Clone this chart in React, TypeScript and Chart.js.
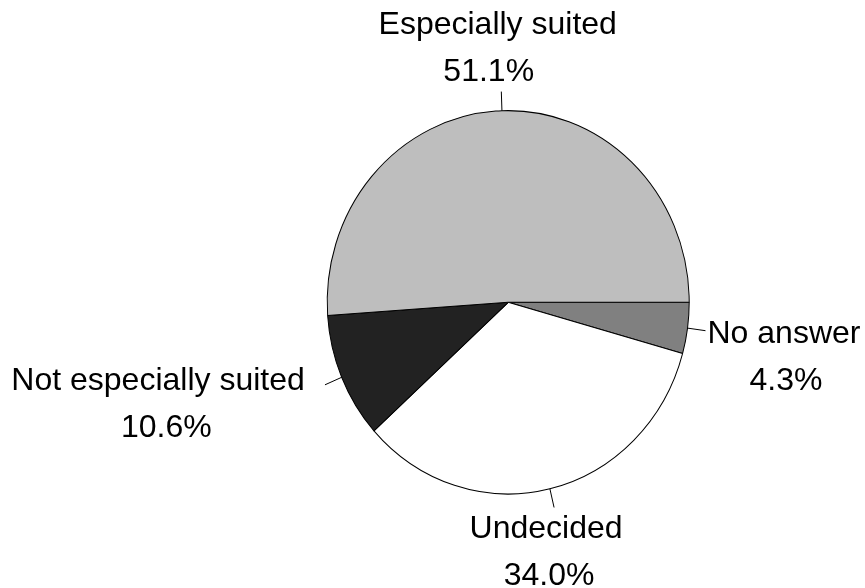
import { useEffect, useRef } from "react";
import { Chart, ArcElement, PieController } from "chart.js";

Chart.register(ArcElement, PieController);

// Survey answers, listed clockwise from three o'clock
const categories = ["No answer", "Undecided", "Not especially suited", "Especially suited"];
const shares = [4.3, 34.0, 10.6, 51.1];
const percentLabels = ["4.3%", "34.0%", "10.6%", "51.1%"];
const sliceColors = ["#808080", "#ffffff", "#222222", "#bebebe"];

// Layout
const CANVAS_W = 865;
const CANVAS_H = 588;
const RADIUS_X = 181;
const Y_STRETCH = 1.059; // the pie is drawn slightly taller than wide
const LEADER_OUT = 1.1;
const LINE_GAP = 47;
const FONT = '32px "Liberation Sans", Arial, sans-serif';

// Text placement relative to the outer end of each leader line
const labelOffsets = [
  { dx1: 78.5, dx2: 80.5, dy: 12.3 },
  { dx1: -8, dx2: -5, dy: 30.5 },
  { dx1: -166.9, dx2: -158.7, dy: 5.2 },
  { dx1: -3.6, dx2: -12.6, dy: -58 },
];

const ellipsePlugin = {
  id: "ellipse",
  beforeDatasetsDraw(chart: any) {
    const arc = chart.getDatasetMeta(0).data[0];
    const ctx = chart.ctx;
    ctx.save();
    ctx.translate(arc.x, arc.y);
    ctx.scale(1, Y_STRETCH);
    ctx.translate(-arc.x, -arc.y);
  },
  afterDatasetsDraw(chart: any) {
    chart.ctx.restore();
  },
};

const sliceLabelPlugin = {
  id: "sliceLabels",
  afterDraw(chart: any) {
    const ctx = chart.ctx;
    const meta = chart.getDatasetMeta(0);
    ctx.save();
    ctx.strokeStyle = "#000";
    ctx.lineWidth = 1;
    ctx.fillStyle = "#000";
    ctx.font = FONT;
    ctx.textAlign = "center";
    ctx.textBaseline = "alphabetic";
    meta.data.forEach((el: any, i: number) => {
      const { x, y, startAngle, endAngle, outerRadius } = el.getProps(
        ["x", "y", "startAngle", "endAngle", "outerRadius"],
        true
      );
      const mid = (startAngle + endAngle) / 2;
      const rx = outerRadius;
      const ry = outerRadius * Y_STRETCH;
      const c = Math.cos(mid);
      const s = Math.sin(mid);
      const x0 = x + rx * c;
      const y0 = y + ry * s;
      const x1 = x + LEADER_OUT * rx * c;
      const y1 = y + LEADER_OUT * ry * s;
      ctx.beginPath();
      ctx.moveTo(x0, y0);
      ctx.lineTo(x1, y1);
      ctx.stroke();
      const off = labelOffsets[i];
      ctx.fillText(categories[i], x1 + off.dx1, y1 + off.dy);
      ctx.fillText(percentLabels[i], x1 + off.dx2, y1 + off.dy + LINE_GAP);
    });
    ctx.restore();
  },
};

export default function App() {
  const canvasRef = useRef<HTMLCanvasElement | null>(null);

  useEffect(() => {
    const canvas = canvasRef.current;
    if (!canvas) return;
    const chart = new Chart(canvas, {
      type: "pie",
      data: {
        labels: categories,
        datasets: [
          {
            data: shares,
            backgroundColor: sliceColors,
            borderColor: "#000000",
            borderWidth: 1,
          },
        ],
      },
      options: {
        responsive: false,
        animation: false,
        events: [],
        rotation: 90,
        radius: RADIUS_X,
        layout: { padding: { left: 161.4, right: 10, top: 26.6, bottom: 10 } },
        plugins: {
          legend: { display: false },
          tooltip: { enabled: false },
        },
      } as any,
      plugins: [ellipsePlugin, sliceLabelPlugin],
    });
    return () => chart.destroy();
  }, []);

  return (
    <div style={{ position: "absolute", left: 0, top: 0, width: CANVAS_W, height: CANVAS_H, background: "#fff" }}>
      <canvas ref={canvasRef} width={CANVAS_W} height={CANVAS_H} style={{ display: "block" }} />
    </div>
  );
}
